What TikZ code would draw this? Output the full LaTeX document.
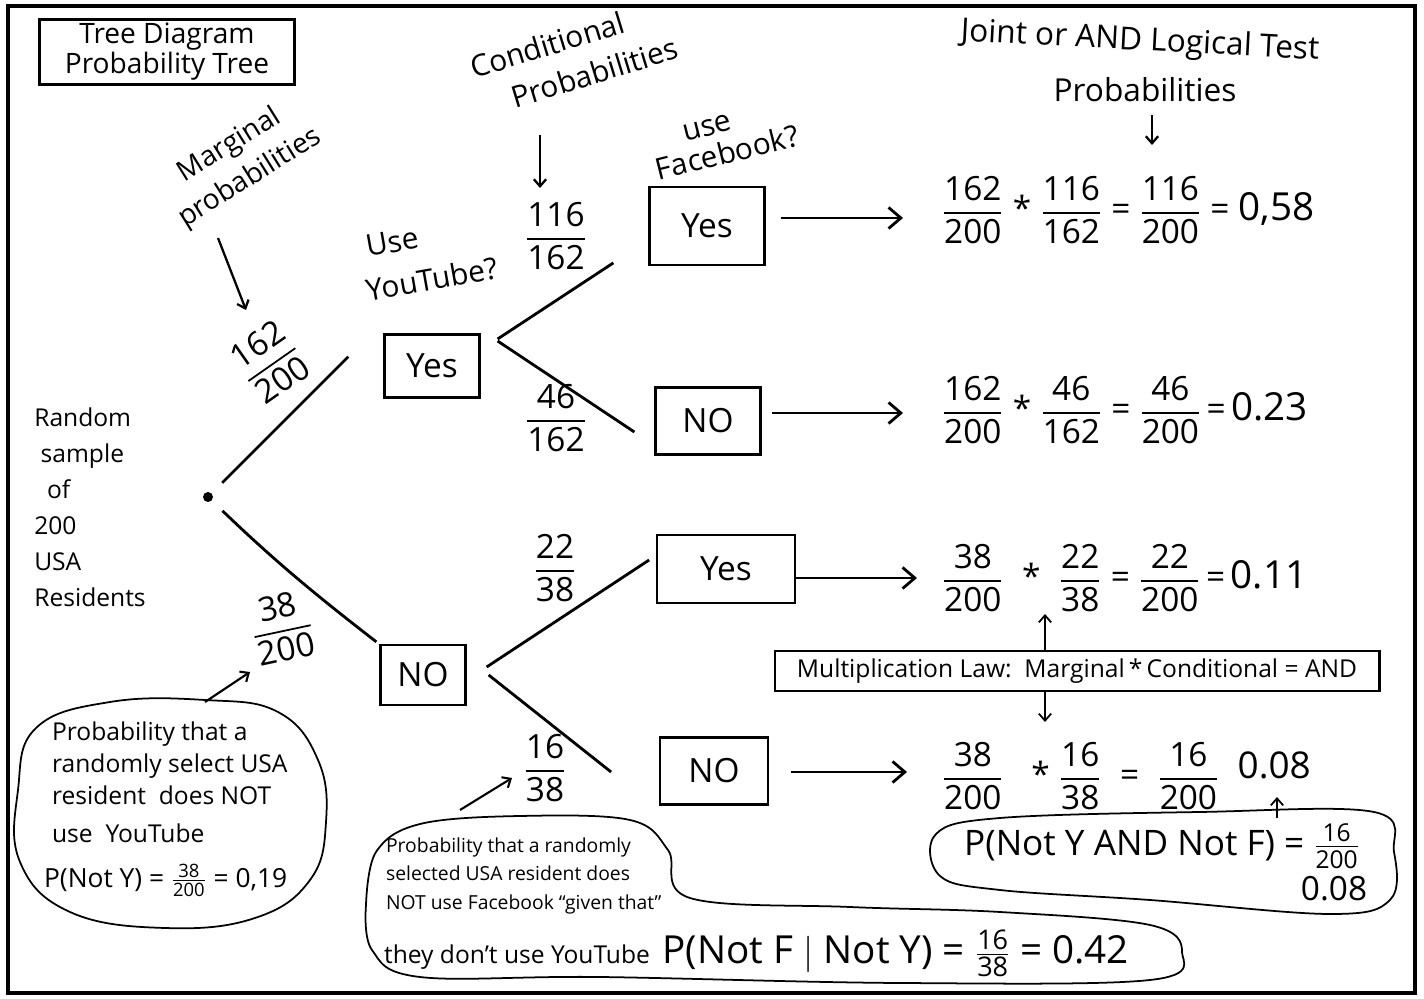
\documentclass[tikz,border=0pt]{standalone}
\usepackage{amsmath}
\usepackage{fontspec}
\setmainfont{Open Sans}
\usetikzlibrary{arrows.meta,calc}
\newcommand\hfr[2]{\ensuremath{\genfrac{}{}{1pt}{0}{\text{#1}}{\text{#2}}}}
\newcommand\sfr[2]{\ensuremath{\genfrac{}{}{0.7pt}{1}{\text{#1}}{\text{#2}}}}
\begin{document}
\begin{tikzpicture}[x=0.02cm,y=-0.02cm,
  hand/.style={font=\fontsize{16}{20}\selectfont, align=center, inner sep=1pt},
  small/.style={font=\fontsize{13}{17}\selectfont, align=left, inner sep=1pt},
  formula/.style={font=\fontsize{19}{22}\selectfont, inner sep=1pt},
  ansbox/.style={draw, line width=1.3pt, font=\fontsize{19}{22}\selectfont, inner sep=2pt},
  branch/.style={line width=1.6pt},
  arr/.style={-{Straight Barb[length=7pt,width=12pt]}, line width=1.6pt},
  sarr/.style={-{Straight Barb[length=4pt,width=7pt]}, line width=1pt},
  blob/.style={draw, line width=1pt}]
\useasboundingbox (0,0) rectangle (1424,999);
\draw[line width=2.5pt] (8,6) rectangle (1415,993);

% title
\node[draw, line width=1.2pt, hand, minimum width=5.1cm, minimum height=1.3cm] (title) at (167,52) {Tree Diagram\\[-3pt]Probability Tree};

% headings
\node[hand, rotate=32] (marg) at (240,162) {Marginal\\[2pt]probabilities};
\coordinate (margtip) at (246,310);
\draw[sarr, line width=1.3pt] (218,238) -- (margtip);

\node[hand, rotate=17, font=\fontsize{17}{21}\selectfont] (cond) at (553,64) {Conditional\\[2pt]\hspace*{1.5cm}Probabilities};
\coordinate (condtip) at (540,188);
\draw[sarr, line width=1.3pt] (540,135) -- (condtip);

\node[hand, rotate=-3, font=\fontsize{18}{22}\selectfont] (joint) at (1140,42) {Joint or AND Logical Test};
\node[hand, font=\fontsize{18}{22}\selectfont] (joint2) at (1145,90) {Probabilities};
\coordinate (jointtip) at (1152,145);
\draw[sarr, line width=1.3pt] (1152,115) -- (jointtip);

\node[hand, rotate=14, align=left, font=\fontsize{17}{21}\selectfont] (usefb) at (724,140) {\hspace*{0.7cm}use\\[-3pt]Facebook?};
\node[hand, rotate=10, align=left, font=\fontsize{17}{21}\selectfont] (useyt) at (428,258) {\hspace*{0.15cm}Use\\[4pt]YouTube?};

% left text
\node[small, align=left, font=\fontsize{14}{20.5}\selectfont] (sample) at (90,507) {Random\\\ sample\\\ \ of\\200\\USA\\Residents};

% tree nodes
\fill (208,497) circle (5) coordinate (root);
\node[ansbox, minimum width=1.9cm, minimum height=1.26cm] (Y1) at (432,366) {Yes};
\node[ansbox, minimum width=1.7cm, minimum height=1.2cm] (N1) at (423,675) {NO};
\node[ansbox, minimum width=2.3cm, minimum height=1.55cm] (FY1) at (707,226) {Yes};
\node[ansbox, minimum width=2.1cm, minimum height=1.34cm] (FN1) at (708,421) {NO};
\node[ansbox, minimum width=2.75cm, minimum height=1.36cm] (FY2) at (726,569) {Yes};
\node[ansbox, minimum width=2.15cm, minimum height=1.34cm] (FN2) at (714,771) {NO};

% branches
\draw[branch, shorten <=0.4cm] (root) -- ($(Y1.south west)+(-35,-42)$);
\draw[branch, shorten <=0.4cm] (root) to[bend right=3] ($(N1.north west)+(-3,-2)$);
\draw[branch] ($(Y1.east)+(17,-27)$) -- ($(FY1.south west)+(-35,-3)$);
\draw[branch] ($(Y1.east)+(17,-25)$) -- ($(FN1.west)+(-20,11)$);
\draw[branch] ($(N1.east)+(20,-8)$) -- ($(FY2.west)+(-7,-9)$);
\draw[branch] ($(N1.east)+(22,0)$) -- ($(FN2.west)+(-48,1)$);

% branch labels
\node[formula, rotate=35] (l1) at (270,362) {\hfr{162}{200}};
\node[formula, rotate=12] (l2) at (282,628) {\hfr{38}{200}};
\node[formula] (l3) at (556,236) {\hfr{116}{162}};
\node[formula] (l4) at (556,418) {\hfr{46}{162}};
\node[formula] (l5) at (555,568) {\hfr{22}{38}};
\node[formula] (l6) at (545,768) {\hfr{16}{38}};

% joint formulas
\node[formula, anchor=west] (f1) at (940,210) {\hfr{162}{200}\;*\;\hfr{116}{162}\;=\;\hfr{116}{200}\;=\;{\fontsize{22}{24}\selectfont 0,58}};
\node[formula, anchor=west] (f2) at (940,410) {\hfr{162}{200}\;*\;\hfr{46}{162}\;=\;\hfr{46}{200}\,=\,{\fontsize{22}{24}\selectfont 0.23}};
\node[formula, anchor=west] (f3) at (940,578) {\hfr{38}{200}\;\;*\;\;\hfr{22}{38}\;=\;\hfr{22}{200}\,=\,{\fontsize{22}{24}\selectfont 0.11}};
\node[formula, anchor=west] (f4) at (940,776) {\hfr{38}{200}\;\;\;*\;\hfr{16}{38}\;\;=\;\;\hfr{16}{200}\;\;\raisebox{5pt}{\fontsize{21}{24}\selectfont 0.08}};

\coordinate (t1) at (903,218);
\coordinate (t2) at (903,413);
\coordinate (t3) at (917,578);
\coordinate (t4) at (907,772);
\draw[arr, shorten <=0.3cm] (FY1.east |- t1) -- (t1);
\draw[arr, shorten <=0.2cm] (FN1.east |- t2) -- (t2);
\draw[arr] (FY2.east |- t3) -- (t3);
\draw[arr, shorten <=0.45cm] (FN2.east |- t4) -- (t4);

% multiplication law
\node[draw, line width=1.2pt, font=\fontsize{14}{17}\selectfont, minimum width=12.1cm, minimum height=0.8cm, inner sep=2pt] (mult) at (1077,671) {Multiplication Law:\ \ Marginal\,*\,Conditional = AND};
\coordinate (m1) at (1045,614);
\coordinate (m2) at (1045,722);
\draw[sarr] (mult.north -| m1) -- (m1);
\draw[sarr] (mult.south -| m2) -- (m2);

% bottom-right callout
\draw[blob] plot[smooth cycle, tension=0.6] coordinates {(936,834) (1000,818) (1200,812) (1374,812) (1394,852) (1390,900) (1330,914) (1150,900) (1000,890) (940,876)};
\node[formula, font=\fontsize{20}{24}\selectfont] (pjoint) at (1162,846) {P(Not Y AND Not F) = \sfr{16}{200}};
\node[formula] (pj2) at (1334,889) {0.08};
\coordinate (c4) at (1277,797);
\draw[sarr] (1277,818) -- (c4);

% bottom-left callout
\draw[blob] plot[smooth cycle, tension=0.7] coordinates {(18,790) (36,728) (110,702) (205,700) (278,712) (318,760) (326,822) (310,880) (255,918) (165,928) (70,912) (20,862)};
\node[small, anchor=north west, font=\fontsize{14}{18}\selectfont] (bl) at (50,720) {Probability that a\\randomly select USA\\resident\ \ does NOT\\[4pt]use\ \ YouTube};
\node[small, anchor=west, font=\fontsize{15}{19}\selectfont] (bl2) at (42,880) {P(Not Y) = \sfr{38}{200} = 0,19};
\coordinate (a1) at (250,672);
\draw[sarr, line width=1.2pt] (205,702) -- (a1);

% bottom-middle callout
\draw[blob] plot[smooth, tension=0.6] coordinates {(366,905) (376,852) (420,824) (520,816) (630,820) (668,850) (690,898) (850,907) (1000,912) (1150,925) (1182,952) (1150,980) (900,983) (600,977) (420,977) (372,950) (366,905)};
\node[small, anchor=north west, font=\fontsize{11}{16}\selectfont] (bm) at (384,836) {Probability that a randomly\\selected USA resident does\\NOT use Facebook ``given that''};
\node[small, anchor=west, font=\fontsize{14}{17}\selectfont] (bm2) at (382,953) {they don't use YouTube\ \ {\fontsize{22}{24}\selectfont P(Not F $|$ Not Y) = \sfr{16}{38} = 0.42}};
\coordinate (a2) at (512,778);
\draw[sarr, line width=1.2pt] (460,810) -- (a2);
\end{tikzpicture}
\end{document}
